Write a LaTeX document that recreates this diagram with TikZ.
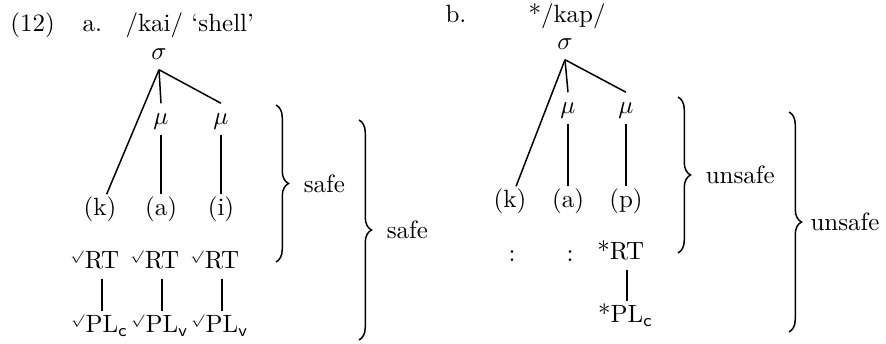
\documentclass[tikz,border=0pt]{standalone}
\usetikzlibrary{decorations.pathreplacing}
\begin{document}
\begin{tikzpicture}
[
    x=0.4pt, y=-0.4pt,
    head/.style={anchor=base west, inner sep=0pt},
    tier/.style={inner sep=2pt, text height=1.5ex, text depth=.4ex},
    assoc/.style={semithick},
    span/.style={semithick, decorate, decoration={brace, amplitude=5pt}}
]
    \useasboundingbox (0,0) rectangle (886,344);

    \node [head] (ex) at (10,32) {(12)};
    \node [head] (la) at (82,32) {a.};
    \node [head] (wa) at (125,32) {/kai/ `shell'};
    \node [head] (lb) at (445,23) {b.};
    \node [head] (wb) at (528,23) {*/kap/};

    \node [tier] (sa) at (159,54) {$\sigma$};
    \node [tier] (ma1) at (161,119) {$\mu$};
    \node [tier] (ma2) at (221,119) {$\mu$};
    \node [tier] (ka) at (100,210) {(k)};
    \node [tier] (aa) at (161,210) {(a)};
    \node [tier] (ia) at (221,210) {(i)};
    \node [tier] (ra1) at (102,263) {\llap{$^{\scriptscriptstyle\surd}$}RT};
    \node [tier] (ra2) at (162,263) {\llap{$^{\scriptscriptstyle\surd}$}RT};
    \node [tier] (ra3) at (222,263) {\llap{$^{\scriptscriptstyle\surd}$}RT};
    \node [tier] (pa1) at (102,327) {\llap{$^{\scriptscriptstyle\surd}$}PL\rlap{$_{\mathsf{c}}$}};
    \node [tier] (pa2) at (162,327) {\llap{$^{\scriptscriptstyle\surd}$}PL\rlap{$_{\mathsf{v}}$}};
    \node [tier] (pa3) at (222,327) {\llap{$^{\scriptscriptstyle\surd}$}PL\rlap{$_{\mathsf{v}}$}};

    \draw [assoc] (sa.south) -- (ka);
    \draw [assoc] (sa.south) -- (ma1.north);
    \draw [assoc] (sa.south) -- (ma2.north);
    \draw [assoc] (ma1.south) -- (aa.north);
    \draw [assoc] (ma2.south) -- (ia.north);
    \draw [assoc] (ra1.south) -- (pa1.north);
    \draw [assoc] (ra2.south) -- (pa2.north);
    \draw [assoc] (ra3.south) -- (pa3.north);

    \coordinate (ba1) at (276,105);
    \coordinate (ea1) at (276,262);
    \coordinate (ba2) at (359,120);
    \coordinate (ea2) at (359,340);
    \draw [span] (ba1) -- (ea1) node [midway, right=7.5pt] (sf1) {safe};
    \draw [span] (ba2) -- (ea2) node [midway, right=7.5pt] (sf2) {safe};

    \node [tier] (sb) at (565,44) {$\sigma$};
    \node [tier] (mb1) at (568,108) {$\mu$};
    \node [tier] (mb2) at (626,108) {$\mu$};
    \node [tier] (kb) at (510,202) {(k)};
    \node [tier] (ab) at (568,202) {(a)};
    \node [tier] (pb) at (626,202) {(p)};
    \node [tier] (cb1) at (512,256) {:};
    \node [tier] (cb2) at (570,256) {:};
    \node [tier] (rb) at (627,254) {\llap{*}RT};
    \node [tier] (qb) at (627,317) {\llap{*}PL\rlap{$_{\mathsf{c}}$}};

    \draw [assoc] (sb.south) -- (kb);
    \draw [assoc] (sb.south) -- (mb1.north);
    \draw [assoc] (sb.south) -- (mb2.north);
    \draw [assoc] (mb1.south) -- (ab.north);
    \draw [assoc] (mb2.south) -- (pb.north);
    \draw [assoc] (rb.south) -- (qb.north);

    \coordinate (bb1) at (678,97);
    \coordinate (eb1) at (678,253);
    \coordinate (bb2) at (789,112);
    \coordinate (eb2) at (789,332);
    \draw [span] (bb1) -- (eb1) node [midway, right=7.5pt] (us1) {unsafe};
    \draw [span] (bb2) -- (eb2) node [midway, right=5pt] (us2) {unsafe};
\end{tikzpicture}
\end{document}
